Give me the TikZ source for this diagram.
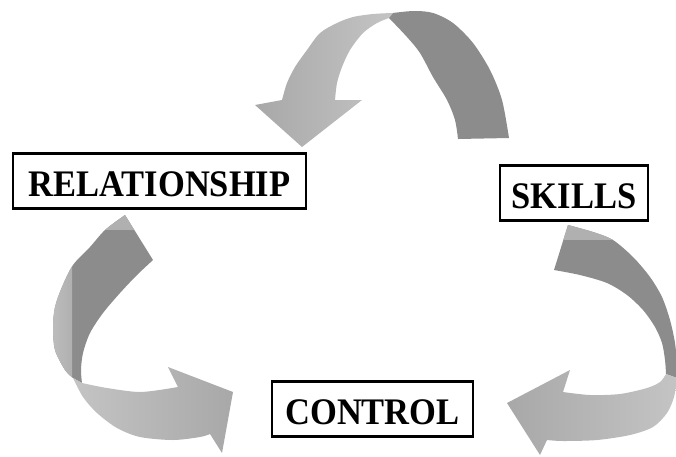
\documentclass[tikz,border=0pt]{standalone}
\usepackage{fontspec}
\setmainfont{Liberation Serif}
\newfontfamily\boxfont[FakeStretch=0.92]{Liberation Serif}
\usepackage{tikz}
\definecolor{backgray}{HTML}{8C8C8C}
\definecolor{tailgray}{HTML}{B0B0B0}
\definecolor{edgegray}{HTML}{A8A8A8}
\definecolor{midgray}{HTML}{E2E2E2}
\definecolor{sidegray}{HTML}{C4C4C4}
\tikzset{
  wordbox/.style={draw, line width=2.2pt, fill=white, inner xsep=0pt,
    minimum height=55pt, text height=30pt, text depth=0pt,
    font=\boxfont\fontsize{37.5}{42}\selectfont\bfseries},
}

\begin{document}
\begin{tikzpicture}[x=1pt, y=-1pt]
\useasboundingbox (0,0) rectangle (676,456);
% top arrow
\fill[backgray] (389,18) -- (385,14) -- plot[smooth] coordinates {(385,14) (413,11) (433,13) (453,23) (473,43) (490,70) (502,100) (509,138)} -- (458,139)
  -- plot[smooth] coordinates {(458,139) (455,120) (447,100) (433,77) (420,53) (407,37) (389,18)} -- cycle;
\shade[left color=edgegray, middle color=midgray, right color=sidegray] (389,18) -- (393,13)
  -- plot[smooth] coordinates {(393,13) (373,14) (353,17) (337,23) (320,33) (307,50) (295,67) (287,83) (282,100)}
  -- (255,105) -- (302,147) -- (362,100) -- (335,100)
  -- plot[smooth] coordinates {(335,100) (337,83) (342,67) (350,50) (363,33) (377,23) (389,18)} -- cycle;
%
% left arrow
\begin{scope}
\clip (125,215) -- plot[smooth] coordinates {(125,215) (105,230) (90,247) (73,265) (62,287) (55,307) (53,327) (55,350) (65,370) (73,378)} -- (82,383)
  -- plot[smooth] coordinates {(82,383) (81,370) (83,353) (90,333) (103,313) (120,293) (137,275) (153,260)} -- cycle;
\fill[backgray] (40,200) rectangle (170,400);
\shade[left color=sidegray, right color=tailgray] (40,250) rectangle (72,400);
\fill[tailgray] (40,200) rectangle (170,230);
\end{scope}
\shade[left color=sidegray, middle color=midgray, right color=edgegray] (73,378)
  -- plot[smooth] coordinates {(73,378) (83,397) (97,413) (117,428) (140,437) (173,440) (200,437) (210,434)}
  -- (222,453) -- (233,392) -- (168,367) -- (178,387) -- (172,388)
  -- plot[smooth] coordinates {(172,388) (140,392) (107,388) (82,383)} -- cycle;
%
% right arrow
\begin{scope}
\clip (568,225) -- plot[smooth] coordinates {(568,225) (593,232) (613,240) (633,257) (650,277) (662,297) (670,320) (675,343) (677,365) (677,378)} -- (666,374)
  -- plot[smooth] coordinates {(666,374) (665,360) (662,343) (655,327) (643,310) (627,295) (607,283) (580,275) (554,270)} -- cycle;
\fill[backgray] (540,215) rectangle (690,390);
\fill[tailgray] (540,215) rectangle (690,240);
\end{scope}
\shade[left color=edgegray, middle color=midgray, right color=sidegray] (677,378)
  -- plot[smooth] coordinates {(677,378) (674,397) (667,413) (653,427) (630,435) (597,440) (563,441) (547,440)}
  -- (540,455) -- (507,403) -- (570,370) -- (563,392)
  -- plot[smooth] coordinates {(563,392) (590,395) (620,394) (647,388) (660,382) (666,374)} -- cycle;
%
\node[wordbox, minimum width=293pt] (relationship) at (159.5,181) {RELATIONSHIP};
\node[wordbox, minimum width=148pt] (skills) at (574,193) {SKILLS};
\node[wordbox, minimum width=201pt] (control) at (372.5,409) {CONTROL};
\end{tikzpicture}
\end{document}
